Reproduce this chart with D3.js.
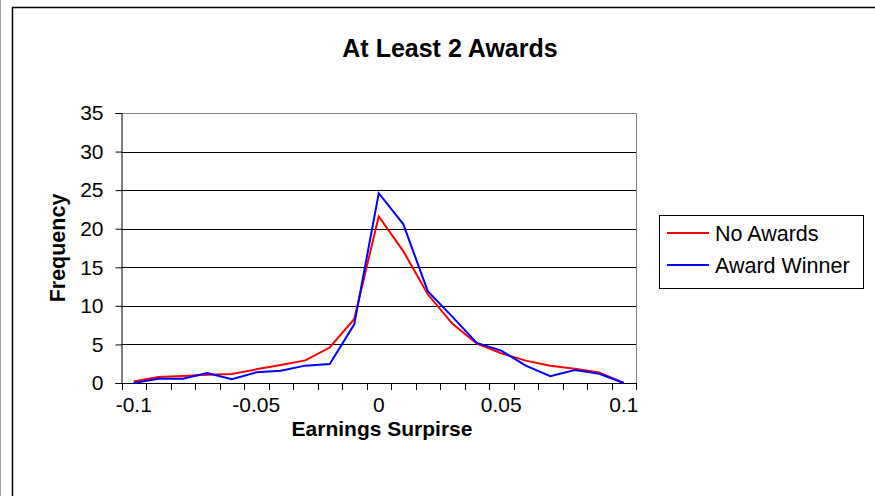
<!DOCTYPE html>
<html><head><meta charset="utf-8">
<script src="https://cdn.jsdelivr.net/npm/d3@7"></script>
<style>html,body{margin:0;padding:0;background:#fff;}svg{display:block;font-family:Arial,"Liberation Sans",sans-serif;}</style>
</head><body><svg id="c" width="875" height="496"></svg>
<script>
const categories = [-0.1,-0.09,-0.08,-0.07,-0.06,-0.05,-0.04,-0.03,-0.02,-0.01,0,0.01,0.02,0.03,0.04,0.05,0.06,0.07,0.08,0.09,0.1];
const noAwards = [0.2,0.78,0.9,1.08,1.17,1.77,2.33,2.93,4.6,8.3,21.6,17.1,11.5,7.7,5.1,3.85,2.9,2.25,1.86,1.38,0];
const awardWinner = [0,0.56,0.56,1.3,0.48,1.38,1.6,2.25,2.46,7.6,24.6,20.6,11.9,8.6,5.2,4.2,2.25,0.87,1.68,1.2,0];
const xTickLabels = [-0.1,-0.05,0,0.05,0.1];
const yTicks = [0,5,10,15,20,25,30,35];
const seriesNames = ["No Awards","Award Winner"];
const seriesColors = ["#FF0000","#0000FF"];

const svg = d3.select("#c");
const L = 121.5, R = 636, T = 113, B = 383;

// page edge and chart frame
svg.append("line").attr("x1",0.5).attr("x2",0.5).attr("y1",0).attr("y2",496).attr("stroke","#a0a0a0").attr("stroke-width",1);
svg.append("path").attr("d",`M12.5,496V7.5H875`).attr("fill","none").attr("stroke","#000").attr("stroke-width",1.5);

const x = d3.scaleBand().domain(categories.map(String)).range([L,R]).padding(0);
const y = d3.scaleLinear().domain([0,35]).range([B,T]);
const cx = c => x(String(c)) + x.bandwidth()/2;

// gridlines
svg.append("g").selectAll("line").data(yTicks.filter(v=>v>0 && v<35)).join("line")
  .attr("x1",L).attr("x2",R).attr("y1",d=>Math.round(y(d))+0.5).attr("y2",d=>Math.round(y(d))+0.5)
  .attr("stroke","#000").attr("stroke-width",1);
// plot border top/right gray
svg.append("path").attr("d",`M${L},${T+0.5}H${R+0.5}V${B}`).attr("fill","none").attr("stroke","#808080").attr("stroke-width",1);

// y axis
const ya = svg.append("g").attr("transform",`translate(${L},0)`)
  .call(d3.axisLeft(y).tickValues(yTicks).tickSize(6).tickPadding(12).tickFormat(d3.format("d")));
ya.select(".domain").attr("stroke","#000").attr("stroke-width",1);
ya.selectAll(".tick line").attr("stroke","#000");
ya.selectAll("text").attr("font-size",21).attr("fill","#000").attr("font-family","Arial, 'Liberation Sans', sans-serif");

// x axis labels
const xa = svg.append("g").attr("transform",`translate(0,${B})`)
  .call(d3.axisBottom(x).tickValues(xTickLabels.map(String)).tickSize(0).tickPadding(14).tickFormat(d=>d));
xa.select(".domain").attr("stroke","#000").attr("stroke-width",1);
xa.selectAll("text").attr("font-size",21).attr("fill","#000").attr("font-family","Arial, 'Liberation Sans', sans-serif");
// boundary tick marks
const bounds = categories.map(c=>x(String(c))).concat([x(String(categories[categories.length-1]))+x.bandwidth()]);
svg.append("g").selectAll("line").data(bounds).join("line")
  .attr("x1",d=>Math.round(d)+0.5).attr("x2",d=>Math.round(d)+0.5).attr("y1",B).attr("y2",B+7)
  .attr("stroke","#000").attr("stroke-width",1);

// lines
const line = d3.line().x((d,i)=>cx(categories[i])).y(d=>y(d));
[noAwards, awardWinner].forEach((s,i)=>{
  svg.append("path").datum(s).attr("d",line).attr("fill","none")
    .attr("stroke",seriesColors[i]).attr("stroke-width",2).attr("stroke-linejoin","miter");
});

// title and axis titles
svg.append("text").attr("x",450).attr("y",57).attr("text-anchor","middle")
  .attr("font-size",25).attr("font-weight","bold").text("At Least 2 Awards");
svg.append("text").attr("x",382).attr("y",436).attr("text-anchor","middle")
  .attr("font-size",21).attr("font-weight","bold").text("Earnings Surpirse");
svg.append("text").attr("transform","translate(65,248) rotate(-90)").attr("text-anchor","middle")
  .attr("font-size",21.5).attr("font-weight","bold").text("Frequency");

// legend
const lg = svg.append("g");
lg.append("rect").attr("x",659.5).attr("y",215.5).attr("width",204).attr("height",73)
  .attr("fill","#fff").attr("stroke","#000").attr("stroke-width",1);
const rows = [233,265];
seriesNames.forEach((n,i)=>{
  lg.append("line").attr("x1",667).attr("x2",709).attr("y1",rows[i]).attr("y2",rows[i])
    .attr("stroke",seriesColors[i]).attr("stroke-width",2);
  lg.append("text").attr("x",715).attr("y",rows[i]).attr("dy","0.36em")
    .attr("font-size",21.5).text(n);
});
</script></body></html>
